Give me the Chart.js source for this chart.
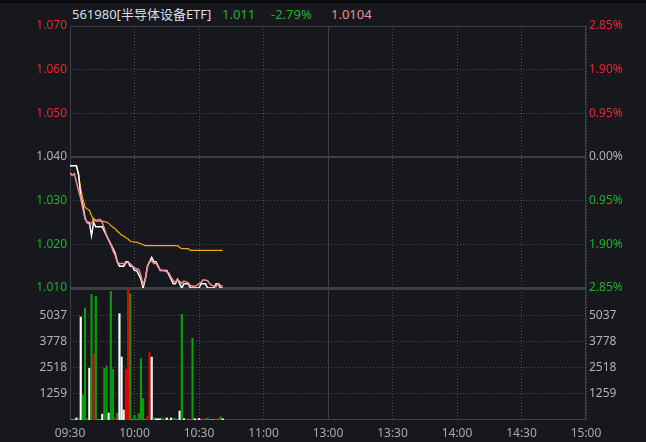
<!DOCTYPE html>
<html><head><meta charset="utf-8">
<script src="https://cdn.jsdelivr.net/npm/chart.js@4/dist/chart.umd.min.js"></script>
<style>
html,body{margin:0;padding:0;background:#16181d;width:646px;height:442px;overflow:hidden;}
#wrap{position:relative;width:646px;height:442px;}
#topbar{position:absolute;left:0;top:0;width:646px;height:3px;background:#0b0c0e;}
canvas{position:absolute;left:0;top:0;}
.h{position:absolute;top:5px;font:13px "Noto Sans","Noto Sans CJK SC",sans-serif;white-space:nowrap;line-height:18px;}
</style></head>
<body><div id="wrap">
<div id="topbar"></div>
<span class="h" id="hName" style="left:72px;color:#d9dde2"></span>
<span class="h" id="hPrice" style="left:222px;color:#22b02a"></span>
<span class="h" id="hChg" style="left:271px;color:#22b02a"></span>
<span class="h" id="hIopv" style="left:331px;color:#f28b8b"></span>
<canvas id="pc" width="646" height="300"></canvas>
<canvas id="vc" width="646" height="442"></canvas>
</div>
<script>
// ---------- data ----------
const title = '561980[半导体设备ETF]';
const lastPrice = '1.011';
const changePct = '-2.79%';
const iopvLast = '1.0104';
const prevClose = 1.040;

const timeTicks = [0, 30, 60, 90, 120, 150, 180, 210, 240];
const timeLabels = ['09:30','10:00','10:30','11:00','13:00','13:30','14:00','14:30','15:00'];

const priceTicks = [1.010, 1.020, 1.030, 1.040, 1.050, 1.060, 1.070];
const priceLabels = ['1.010','1.020','1.030','1.040','1.050','1.060','1.070'];
const pctLabels = ['2.85%','1.90%','0.95%','0.00%','0.95%','1.90%','2.85%'];

const volTicks = [1259, 2518, 3778, 5037];
const volLabels = ['1259','2518','3778','5037'];

// minute-by-minute price (white), IOPV (pink), average price (orange)
const price = [1.038,1.038,1.038,1.038,1.036,1.031,1.029,1.026,1.025,1.025,1.022,1.025,1.024,1.024,1.024,1.024,1.023,1.022,1.021,1.020,1.019,1.018,1.016,
 1.015,1.015,1.015,1.016,1.016,1.015,1.015,1.014,1.014,1.013,1.012,1.010,1.012,1.015,1.016,1.017,1.016,1.016,1.015,1.014,1.014,1.014,1.014,1.013,1.012,1.011,1.011,1.012,1.011,1.010,1.011,1.011,1.011,1.010,1.010,1.010,1.010,1.010,1.011,1.011,1.011,1.010,1.010,1.010,1.010,1.011,1.011,1.010,1.010];
const iopv = [1.0364,1.0358,1.0362,1.0342,1.0323,1.0305,1.0281,1.0259,1.0250,1.0246,1.0247,1.0259,1.0255,1.0255,1.0257,1.0250,1.0236,1.0220,1.0209,1.0200,1.0185,1.0175,1.0160,
 1.0156,1.0156,1.0156,1.0157,1.0159,1.0156,1.0150,1.0146,1.0144,1.0142,1.0128,1.0108,1.0120,1.0148,1.0160,1.0163,1.0156,1.0157,1.0148,1.0141,1.0140,1.0140,1.0137,1.0134,1.0125,1.0117,1.0113,1.0119,1.0115,1.0111,1.0116,1.0114,1.0112,1.0106,1.0104,1.0104,1.0106,1.0110,1.0113,1.0119,1.0118,1.0117,1.0110,1.0106,1.0104,1.0104,1.0110,1.0106,1.0104];
const avgPrice = [1.0380,1.0380,1.0380,1.0380,1.0358,1.0327,1.0304,1.0285,1.0281,1.0278,1.0266,1.0255,1.0253,1.0253,1.0253,1.0253,1.0252,1.0251,1.0248,1.0243,1.0239,1.0236,1.0230,
 1.0226,1.0221,1.0219,1.0215,1.0212,1.0207,1.0206,1.0205,1.0205,1.0203,1.0201,1.0199,
 1.0197,1.0197,1.0197,1.0197,1.0197,1.0197,1.0197,1.0197,1.0197,1.0197,1.0197,1.0197,1.0197,1.0197,1.0197,1.0197,
 1.0193,1.0190,1.0190,1.0190,1.0190,
 1.0186,1.0186,1.0186,1.0186,1.0186,1.0186,1.0186,1.0186,1.0186,1.0186,1.0186,1.0186,1.0186,1.0186,1.0186,1.0186];
// volume per minute and tick direction (1 up, -1 down, 0 flat)
const volume = [80,0,0,100,80,4950,1200,5380,60,2480,6035,3195,5940,0,0,280,2480,2590,330,6180,2430,100,330,5110,3030,480,2440,6270,6070,0,240,0,320,2955,1040,0,160,3240,3020,100,60,60,60,100,0,100,0,100,80,80,0,430,5080,60,60,0,0,3930,60,0,80,0,60,0,100,0,0,0,60,0,150,60];
const volDir = [-1,0,0,0,-1,0,-1,-1,-1,0,-1,1,-1,0,0,0,-1,-1,0,-1,-1,1,-1,0,0,0,1,1,-1,0,-1,0,-1,-1,-1,0,1,1,0,-1,0,0,0,-1,0,0,0,0,-1,-1,0,0,-1,0,1,0,0,-1,0,0,0,0,1,0,-1,0,0,0,1,0,-1,0];

// ---------- header ----------
document.getElementById('hName').textContent = title;
document.getElementById('hPrice').textContent = lastPrice;
document.getElementById('hChg').textContent = changePct;
document.getElementById('hIopv').textContent = iopvLast;

// ---------- styling ----------
const FONT = '"Noto Sans","Noto Sans CJK SC",sans-serif';
const RED = '#e5282d', GREEN = '#1fae27', GRAY = '#aeb2b8';
const GRID = '#4a4d54', FRAME = '#3d4046';
function priceColor(v){ return Math.abs(v - prevClose) < 1e-9 ? GRAY : (v > prevClose ? RED : GREEN); }

const framePlugin = {
  id: 'frame',
  beforeDatasetsDraw(chart, args, opts) {
    const {ctx, chartArea: a, scales} = chart;
    ctx.save();
    ctx.strokeStyle = FRAME;
    ctx.lineWidth = 1;
    ctx.strokeRect(a.left + 0.5, a.top + 0.5, a.width - 1, a.height - 1);
    const xm = Math.round(scales.x.getPixelForValue(120)) + 0.5;
    ctx.beginPath(); ctx.moveTo(xm, a.top); ctx.lineTo(xm, a.bottom); ctx.stroke();
    ctx.lineWidth = 2;
    if (opts.hline != null) {
      const y = Math.round(scales.y.getPixelForValue(opts.hline));
      ctx.beginPath(); ctx.moveTo(a.left, y); ctx.lineTo(a.right, y); ctx.stroke();
    }
    if (opts.thickBottom) {
      const y = Math.round(a.bottom);
      ctx.beginPath(); ctx.moveTo(a.left, y); ctx.lineTo(a.right, y); ctx.stroke();
    }
    ctx.restore();
  }
};

const xTickSetter = s => { s.ticks = timeTicks.map(v => ({value: v})); };
function yAxis(pos, ticks, labels, colorFn, width, grid) {
  return {
    position: pos,
    afterBuildTicks: s => { s.ticks = ticks.map(v => ({value: v})); },
    ticks: {color: colorFn, font: {size: 12, family: FONT}, padding: 3, callback: (v, i) => labels[i]},
    grid: {color: GRID, drawTicks: false, drawOnChartArea: grid},
    border: {display: false, dash: [1, 2]},
    afterFit: s => { s.width = width; s.paddingTop = 0; s.paddingBottom = 0; }
  };
}

// ---------- price chart ----------
const toXY = arr => arr.map((v, i) => ({x: i, y: v}));
new Chart(document.getElementById('pc'), {
  type: 'line',
  data: {datasets: [
    {label: '价格', data: toXY(price), borderColor: '#ffffff', borderWidth: 1.5, pointRadius: 0, order: 1},
    {label: 'IOPV', data: toXY(iopv), borderColor: '#f28b8b', borderWidth: 1.5, pointRadius: 0, order: 0},
    {label: '均价', data: toXY(avgPrice), borderColor: '#f5a400', borderWidth: 1.2, pointRadius: 0, order: 2}
  ]},
  options: {
    responsive: false, animation: false, events: [],
    layout: {padding: {top: 26, bottom: 12, left: 0, right: 0}},
    plugins: {legend: {display: false}, tooltip: {enabled: false}, frame: {hline: prevClose, thickBottom: true}},
    scales: {
      x: {type: 'linear', min: 0, max: 240, afterBuildTicks: xTickSetter,
          ticks: {display: false}, grid: {color: GRID, drawTicks: false},
          border: {display: false, dash: [1, 2]},
          afterFit: s => { s.height = 0; s.paddingLeft = 0; s.paddingRight = 0; }},
      y: Object.assign(yAxis('left', priceTicks, priceLabels, c => priceColor(c.tick.value), 70, true), {min: 1.010, max: 1.070}),
      yR: Object.assign(yAxis('right', priceTicks, pctLabels, c => priceColor(c.tick.value), 60, false), {min: 1.010, max: 1.070})
    }
  },
  plugins: [framePlugin]
});

// ---------- volume chart ----------
new Chart(document.getElementById('vc'), {
  type: 'bar',
  data: {datasets: [{
    label: '成交量', data: toXY(volume),
    backgroundColor: volDir.map(d => d > 0 ? '#e00000' : (d < 0 ? '#0e9a0e' : '#ffffff')),
    barThickness: 1.5, borderWidth: 0
  }]},
  options: {
    responsive: false, animation: false, events: [],
    layout: {padding: {top: 289, bottom: 0, left: 0, right: 0}},
    plugins: {legend: {display: false}, tooltip: {enabled: false}, frame: {}},
    scales: {
      x: {type: 'linear', min: 0, max: 240, offset: false, afterBuildTicks: xTickSetter,
          ticks: {color: '#a7abb1', font: {size: 12, family: FONT}, padding: 6, maxRotation: 0, autoSkip: false,
                  callback: (v, i) => timeLabels[i]},
          grid: {color: GRID, drawTicks: false, offset: false},
          border: {display: false, dash: [1, 2]},
          afterFit: s => { s.height = 22; s.paddingLeft = 0; s.paddingRight = 0; }},
      y: Object.assign(yAxis('left', volTicks, volLabels, GRAY, 70, true), {min: 0, max: 6296}),
      yR: Object.assign(yAxis('right', volTicks, volLabels, GRAY, 60, false), {min: 0, max: 6296})
    }
  },
  plugins: [framePlugin]
});
</script>
</body></html>
